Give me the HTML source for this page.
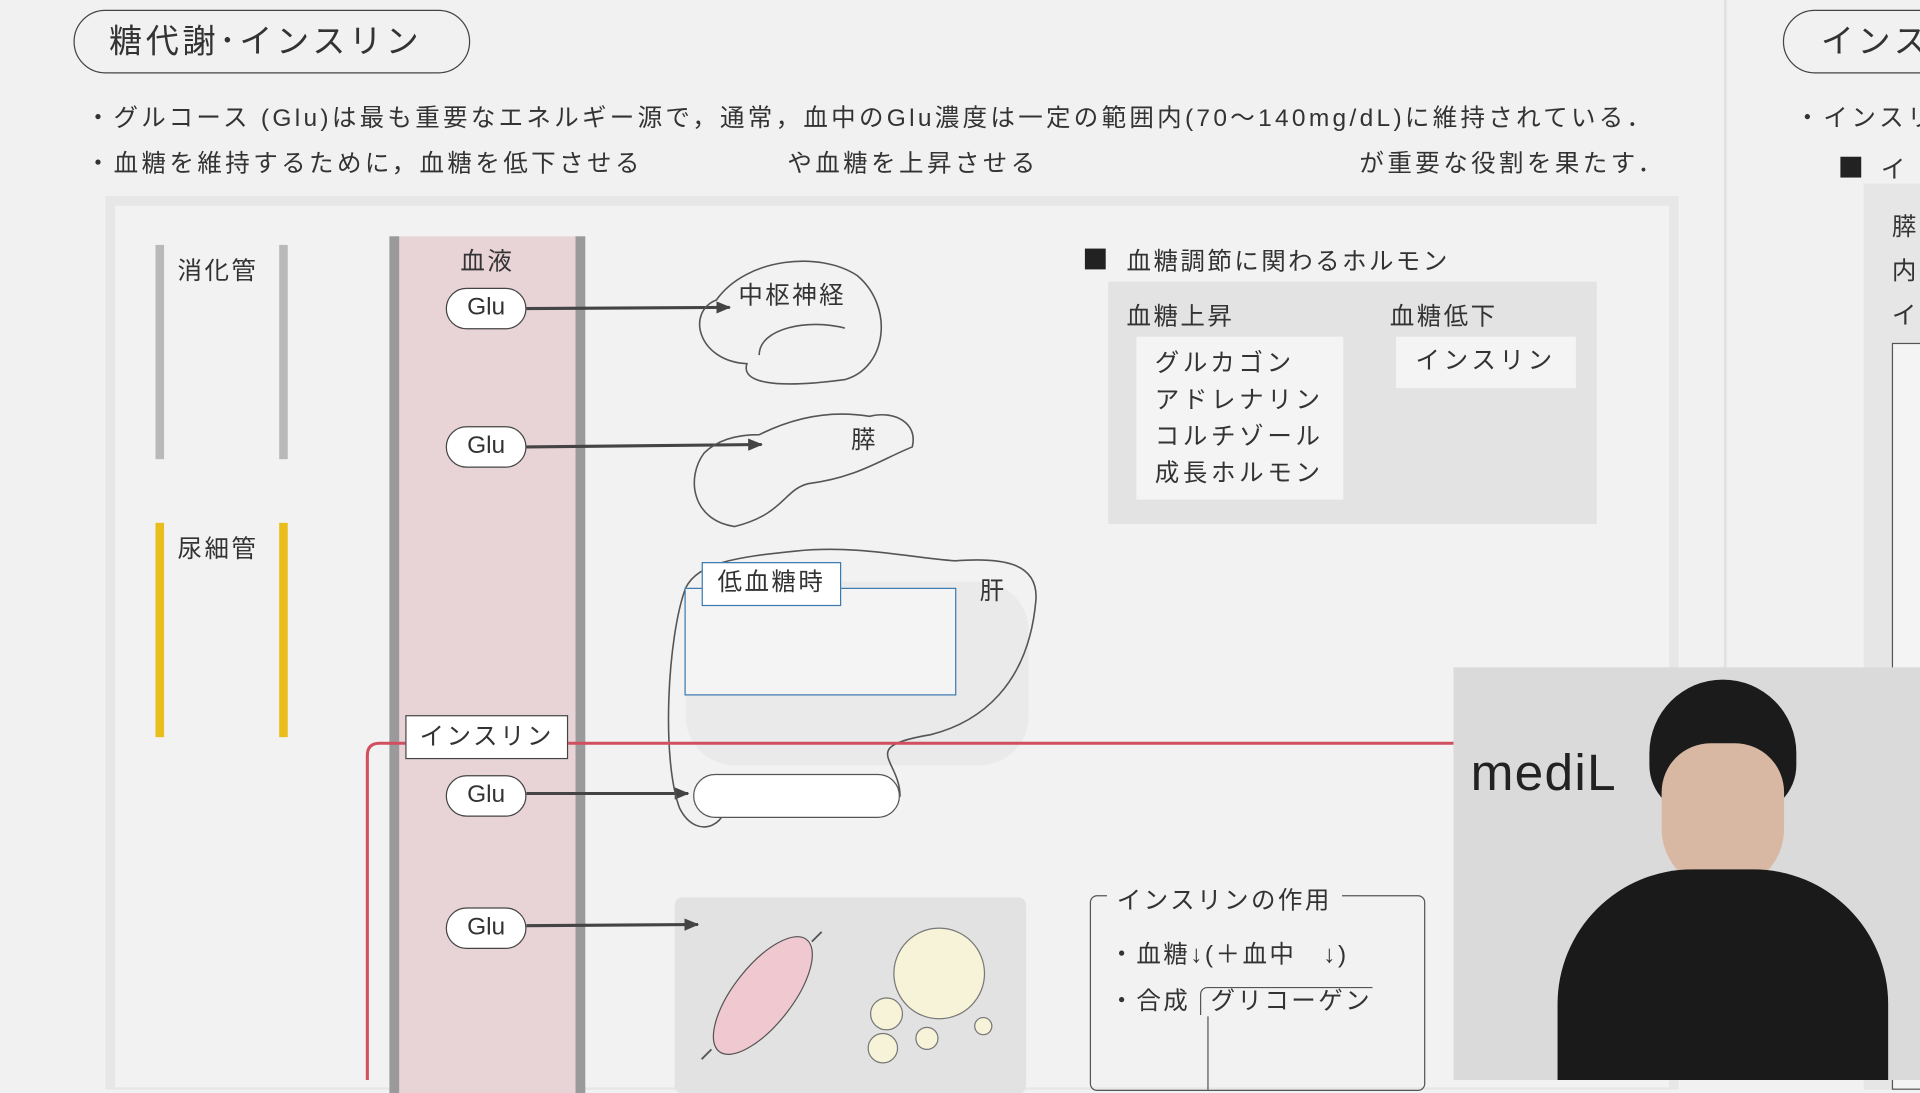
<!DOCTYPE html>
<html><head><meta charset="utf-8"><style>
*{margin:0;padding:0;box-sizing:border-box}
body{width:1920px;height:1080px;overflow:hidden;background:#f1f1f1;font-family:"Liberation Sans","Noto Sans CJK JP",sans-serif;color:#333}
#s{position:absolute;left:0;top:0;width:1568px;height:882px;transform:scale(1.22449);transform-origin:0 0;background:#f1f1f1;letter-spacing:2px}
.a{position:absolute}
.pill{position:absolute;border:1.5px solid #444;border-radius:17px;background:#fff;text-align:center;font-size:20px;line-height:31px;letter-spacing:0}
</style></head><body><div id="s">
<div class="a" style="left:60px;top:8px;width:324px;height:52px;border:1.5px solid #444;border-radius:26px;font-size:27px;line-height:50px;padding-left:28px;letter-spacing:3px">糖代謝･インスリン</div>
<div class="a" style="left:1456px;top:8px;width:140px;height:52px;border:1.5px solid #444;border-radius:26px;font-size:27px;line-height:50px;padding-left:30px;letter-spacing:3px">インス</div>
<div class="a" style="left:1408px;top:0;width:2px;height:882px;background:#e0e0e0"></div>
<div class="a" style="left:70px;top:80px;font-size:20px;white-space:nowrap;letter-spacing:2.7px">・グルコース (Glu)は最も重要なエネルギー源で，通常，血中のGlu濃度は一定の範囲内(70〜140mg/dL)に維持されている．</div>
<div class="a" style="left:70px;top:117px;font-size:20px;white-space:nowrap;letter-spacing:2.8px">・血糖を維持するために，血糖を低下させる<span style="display:inline-block;width:118px"></span>や血糖を上昇させる<span style="display:inline-block;width:262px"></span>が重要な役割を果たす．</div>
<div class="a" style="left:1466px;top:80px;font-size:20px;white-space:nowrap;letter-spacing:3px">・インスリ</div>
<div class="a" style="left:1503px;top:128px;width:17px;height:17px;background:#222"></div>
<div class="a" style="left:1536px;top:122px;font-size:20px">イ</div>
<div class="a" style="left:1522px;top:150px;width:60px;height:740px;background:#e6e6e6"></div>
<div class="a" style="left:1545px;top:280px;width:40px;height:610px;border:1.5px solid #555;background:#f4f4f4"></div>
<div class="a" style="left:1545px;top:168px;font-size:20px;line-height:36px">膵<br>内<br>イ</div>
<div class="a" style="left:86px;top:160px;width:1285px;height:730px;background:#e7e7e7"></div>
<div class="a" style="left:94px;top:168px;width:1269px;height:720px;background:#f2f2f2"></div>
<div class="a" style="left:127px;top:200px;width:7px;height:175px;background:#b9b9b9"></div>
<div class="a" style="left:228px;top:200px;width:7px;height:175px;background:#b9b9b9"></div>
<div class="a" style="left:145px;top:205px;font-size:20px">消化管</div>
<div class="a" style="left:127px;top:427px;width:7px;height:175px;background:#e9bd1c"></div>
<div class="a" style="left:228px;top:427px;width:7px;height:175px;background:#e9bd1c"></div>
<div class="a" style="left:145px;top:432px;font-size:20px">尿細管</div>
<div class="a" style="left:322px;top:193px;width:154px;height:700px;background:#e8d3d7"></div>
<div class="a" style="left:318px;top:193px;width:8px;height:700px;background:#9a9a9a"></div>
<div class="a" style="left:470px;top:193px;width:8px;height:700px;background:#9a9a9a"></div>
<div class="a" style="left:376px;top:197px;font-size:20px">血液</div>
<div class="a" style="left:560px;top:475px;width:280px;height:150px;background:#e4e4e4;border-radius:40px;opacity:.6"></div>
<div class="a" style="left:551px;top:733px;width:287px;height:160px;background:#e2e2e2;border-radius:6px"></div>
<svg class="a" style="left:0;top:0" width="1568" height="882">
<defs><marker id="ar" markerUnits="userSpaceOnUse" markerWidth="12" markerHeight="12" refX="11" refY="6" orient="auto"><path d="M0,1L12,6L0,11z" fill="#444"/></marker></defs>
<g stroke="#444" stroke-width="2.5" fill="none" marker-end="url(#ar)">
<line x1="430" y1="252" x2="596" y2="251"/><line x1="430" y1="365" x2="622" y2="363"/>
<line x1="430" y1="648" x2="562" y2="648"/><line x1="430" y1="756" x2="570" y2="755"/></g>
<g fill="none" stroke="#555" stroke-width="1.3">
<path d="M585,245 C560,255 570,295 610,297 C605,312 630,318 690,310 C725,300 730,250 700,225 C670,205 610,210 585,245z"/>
<path d="M690,268 C660,260 620,268 620,290"/>
<path d="M575,370 C560,390 565,425 600,430 C640,420 640,400 660,395 C700,390 720,375 745,365 C750,345 730,335 710,340 C680,335 650,340 620,355 C600,355 585,360 575,370z"/>
<path d="M560,480 C545,520 540,620 555,660 C570,690 600,670 590,650 L735,650 C735,620 700,610 760,600 C800,590 840,560 846,490 C848,460 820,455 780,458 C740,455 700,445 650,450 C600,455 570,460 560,480z"/>
</g>
<path d="M1187,607 L310,607 Q300,607 300,617 L300,882" stroke="#d05060" stroke-width="2.5" fill="none"/>
</svg>
<div class="a" style="left:603px;top:225px;font-size:20px">中枢神経</div>
<div class="a" style="left:695px;top:343px;font-size:20px">膵</div>
<div class="a" style="left:800px;top:466px;font-size:20px">肝</div>
<div class="a" style="left:559px;top:480px;width:222px;height:88px;border:1.5px solid #3a7ab0;background:#f4f4f4"></div>
<div class="a" style="left:573px;top:459px;width:114px;height:36px;border:1.5px solid #3a7ab0;background:#fff;font-size:20px;line-height:33px;text-align:center">低血糖時</div>
<div class="a" style="left:566px;top:632px;width:169px;height:36px;border:1.3px solid #555;border-radius:18px;background:#fff"></div>
<div class="a" style="left:331px;top:584px;width:133px;height:36px;border:1.3px solid #444;background:#fff;font-size:20px;line-height:34px;text-align:center">インスリン</div>
<div class="pill" style="left:364px;top:235px;width:66px;height:34px">Glu</div>
<div class="pill" style="left:364px;top:348px;width:66px;height:34px">Glu</div>
<div class="pill" style="left:364px;top:633px;width:66px;height:34px">Glu</div>
<div class="pill" style="left:364px;top:741px;width:66px;height:34px">Glu</div>
<svg class="a" style="left:551px;top:733px" width="287" height="150">
<ellipse cx="72" cy="80" rx="24" ry="58" transform="rotate(38 72 80)" fill="#f0c8d0" stroke="#555"/>
<line x1="30" y1="124" x2="22" y2="132" stroke="#555" stroke-width="1.5"/><line x1="112" y1="36" x2="120" y2="28" stroke="#555" stroke-width="1.5"/>
<circle cx="216" cy="62" r="37" fill="#f7f3d8" stroke="#777"/>
<circle cx="173" cy="95" r="13" fill="#f7f3d8" stroke="#777"/><circle cx="170" cy="123" r="12" fill="#f7f3d8" stroke="#777"/>
<circle cx="206" cy="115" r="9" fill="#f7f3d8" stroke="#777"/><circle cx="252" cy="105" r="7" fill="#f7f3d8" stroke="#777"/></svg>
<div class="a" style="left:886px;top:203px;width:17px;height:17px;background:#222"></div>
<div class="a" style="left:920px;top:197px;font-size:20px">血糖調節に関わるホルモン</div>
<div class="a" style="left:905px;top:230px;width:399px;height:198px;background:#e3e3e3"></div>
<div class="a" style="left:920px;top:242px;font-size:20px">血糖上昇</div>
<div class="a" style="left:1135px;top:242px;font-size:20px">血糖低下</div>
<div class="a" style="left:928px;top:275px;width:169px;height:133px;background:#f4f4f4;font-size:20px;line-height:30px;padding:7px 0 0 15px;letter-spacing:3px">グルカゴン<br>アドレナリン<br>コルチゾール<br>成長ホルモン</div>
<div class="a" style="left:1140px;top:275px;width:147px;height:42px;background:#f4f4f4;font-size:20px;line-height:40px;padding-left:16px;letter-spacing:3px">インスリン</div>
<div class="a" style="left:890px;top:731px;width:274px;height:160px;border:1.3px solid #555;border-radius:6px"></div>
<div class="a" style="left:904px;top:719px;font-size:20px;background:#f2f2f2;padding:0 8px">インスリンの作用</div>
<div class="a" style="left:906px;top:763px;font-size:20px">・血糖↓(＋血中　↓)</div>
<div class="a" style="left:906px;top:801px;font-size:20px">・合成 <span style="border-left:1.3px solid #555;border-top:1.3px solid #555;border-radius:6px 0 0 0;padding-left:8px">グリコーゲン</span></div>
<div class="a" style="left:986px;top:830px;width:1.3px;height:60px;background:#555"></div>
<div class="a" style="left:1187px;top:545px;width:381px;height:337px;background:#dadada;overflow:hidden">
<div class="a" style="left:14px;top:62px;font-size:42px;color:#222;letter-spacing:1px">mediL</div>
<div class="a" style="left:160px;top:10px;width:120px;height:110px;border-radius:60px 60px 40px 40px;background:#1b1b1b"></div>
<div class="a" style="left:170px;top:62px;width:100px;height:120px;border-radius:40px 40px 50px 50px;background:#d8b8a2"></div>
<div class="a" style="left:85px;top:165px;width:270px;height:200px;border-radius:110px 110px 0 0;background:#1a1a1a"></div>
</div>
</div></body></html>
